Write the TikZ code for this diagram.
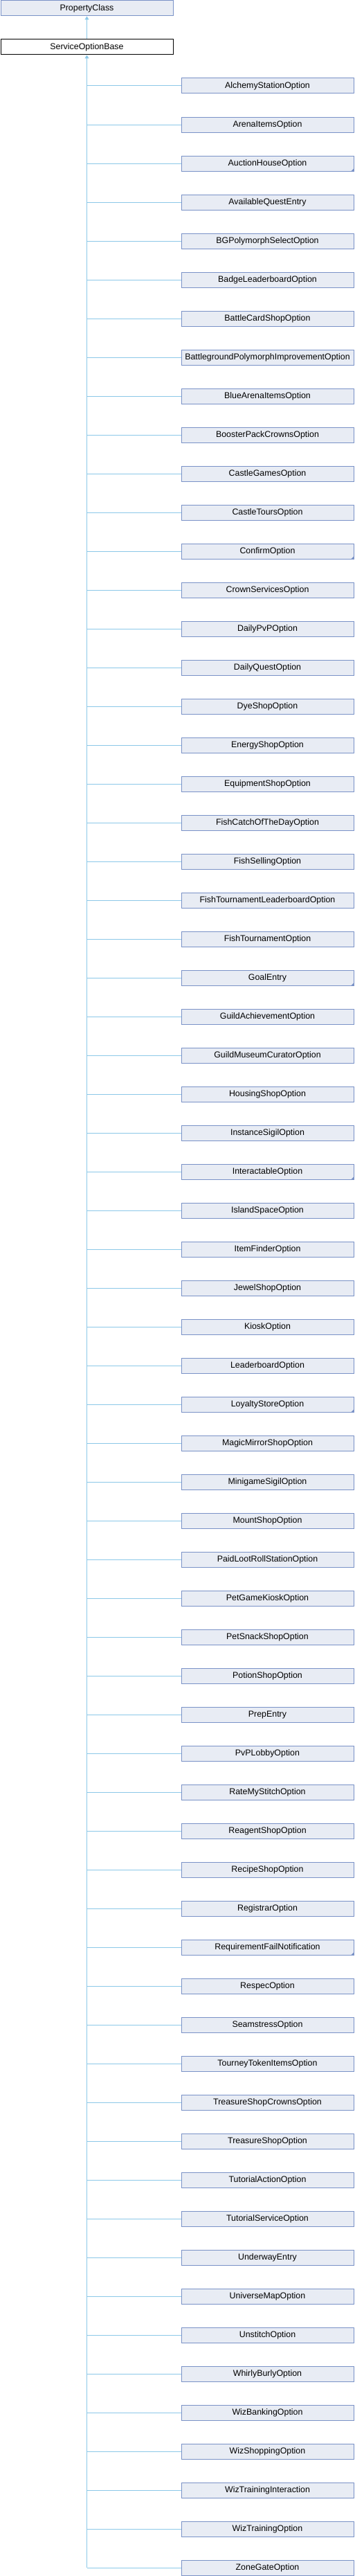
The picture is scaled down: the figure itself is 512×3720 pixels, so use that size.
\documentclass[tikz,border=0pt]{standalone}
\usepackage{fontspec}
\setmainfont{Liberation Sans}
\usepackage{tikz}
\usetikzlibrary{arrows.meta}
\definecolor{boxfill}{RGB}{232,236,244}
\definecolor{boxline}{RGB}{122,146,199}
\definecolor{edgeblue}{RGB}{140,200,232}

\begin{document}
\begin{tikzpicture}[x=1pt,y=-1pt,
    cls/.style={draw=boxline,fill=boxfill,line width=1pt,minimum width=249pt,
                minimum height=22pt,inner sep=0pt,font=\fontsize{12.4}{14}\selectfont},
    inh/.style={draw=edgeblue,line width=1pt},
    tipend/.style={-{Triangle[width=6pt,length=5pt,fill=edgeblue]}},
    tipstart/.style={{Triangle[width=6pt,length=5pt,fill=edgeblue]}-}]
    \useasboundingbox (0,0) rectangle (512,3720);
    % Bases
    \node[cls] (prop) at (125.5,12) {PropertyClass};
    \node[cls,draw=black,fill=white] (base) at (125.5,68) {ServiceOptionBase};
    \draw[inh,tipend] (base) -- (prop);
    % Derived classes
    \foreach \name [count=\i] in {AlchemyStationOption,ArenaItemsOption,AuctionHouseOption,
        AvailableQuestEntry,BGPolymorphSelectOption,BadgeLeaderboardOption,BattleCardShopOption,
        BattlegroundPolymorphImprovementOption,BlueArenaItemsOption,BoosterPackCrownsOption,
        CastleGamesOption,CastleToursOption,ConfirmOption,CrownServicesOption,DailyPvPOption,
        DailyQuestOption,DyeShopOption,EnergyShopOption,EquipmentShopOption,
        FishCatchOfTheDayOption,FishSellingOption,FishTournamentLeaderboardOption,
        FishTournamentOption,GoalEntry,GuildAchievementOption,GuildMuseumCuratorOption,
        HousingShopOption,InstanceSigilOption,InteractableOption,IslandSpaceOption,
        ItemFinderOption,JewelShopOption,KioskOption,LeaderboardOption,LoyaltyStoreOption,
        MagicMirrorShopOption,MinigameSigilOption,MountShopOption,PaidLootRollStationOption,
        PetGameKioskOption,PetSnackShopOption,PotionShopOption,PrepEntry,PvPLobbyOption,
        RateMyStitchOption,ReagentShopOption,RecipeShopOption,RegistrarOption,
        RequirementFailNotification,RespecOption,SeamstressOption,TourneyTokenItemsOption,
        TreasureShopCrownsOption,TreasureShopOption,TutorialActionOption,TutorialServiceOption,
        UnderwayEntry,UniverseMapOption,UnstitchOption,WhirlyBurlyOption,WizBankingOption,
        WizShoppingOption,WizTrainingInteraction,WizTrainingOption,ZoneGateOption} {
        \node[cls] (c\i) at (386.5,68+56*\i) {\name};
        \draw[inh] (base.south |- c\i.west) -- (c\i.west);
    }
    % Trunk
    \draw[inh,tipstart] (base.south) -- (base.south |- c65.west);
    % Marks of classes with more children
    \foreach \i in {3,13,24,29,35,49}
        \fill[boxline] (c\i.south east) -- ++(-4.5,0) -- ++(4.5,-4.5) -- cycle;
\end{tikzpicture}
\end{document}
